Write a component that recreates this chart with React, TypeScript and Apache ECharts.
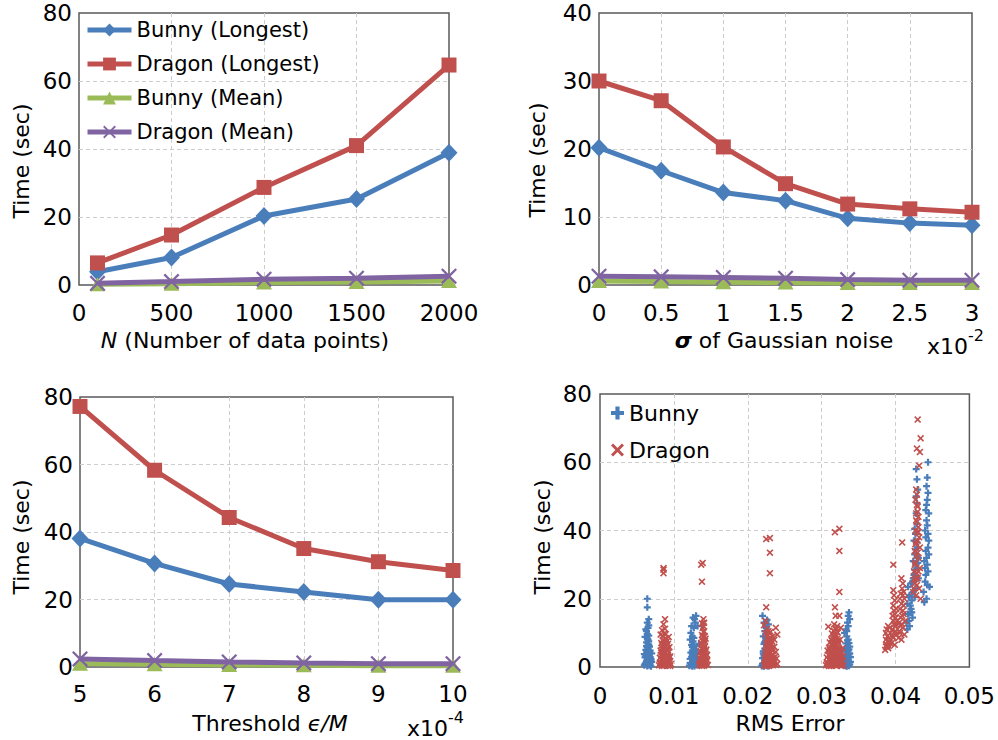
import React, { useEffect, useRef } from 'react';
import * as echarts from 'echarts';

const FONT = 'DejaVu Sans';
const BLUE = '#4A7EBB';
const RED = '#C0504D';
const GREEN = '#9BBB59';
const PURPLE = '#8064A2';

// Panel 1: N (number of data points)
const nPoints = [100, 500, 1000, 1500, 2000];
const nBunnyLongest = [3.9, 8.1, 20.3, 25.3, 38.9];
const nDragonLongest = [6.5, 14.7, 28.7, 41.0, 64.7];
const nBunnyMean = [0.2, 0.4, 0.7, 0.9, 1.2];
const nDragonMean = [0.5, 1.0, 1.7, 2.0, 2.6];

// Panel 2: sigma of Gaussian noise (x10^-2)
const sigmaValues = [0, 0.5, 1, 1.5, 2, 2.5, 3];
const sBunnyLongest = [20.2, 16.8, 13.6, 12.4, 9.8, 9.1, 8.8];
const sDragonLongest = [30.0, 27.1, 20.3, 14.9, 11.9, 11.2, 10.7];
const sBunnyMean = [0.6, 0.5, 0.4, 0.35, 0.3, 0.3, 0.3];
const sDragonMean = [1.3, 1.2, 1.1, 1.0, 0.8, 0.7, 0.7];

// Panel 3: threshold eps/M (x10^-4)
const thrValues = [5, 6, 7, 8, 9, 10];
const tBunnyLongest = [38.1, 30.7, 24.6, 22.2, 19.9, 19.9];
const tDragonLongest = [77.2, 58.3, 44.3, 35.1, 31.2, 28.6];
const tBunnyMean = [1.0, 0.8, 0.6, 0.5, 0.4, 0.4];
const tDragonMean = [2.4, 1.9, 1.5, 1.2, 1.0, 1.0];

// Panel 4: RMS error vs time scatter
const bunnyC1 = [[0.0060,0.5],[0.0062,1.2],[0.0064,0.3],[0.0066,2.0],[0.0068,0.8],[0.0070,1.5],[0.0061,2.8],[0.0063,3.5],[0.0065,4.2],[0.0067,3.0],[0.0069,2.4],[0.0062,5.0],[0.0064,5.8],[0.0066,6.5],[0.0068,4.8],[0.0063,7.2],[0.0065,8.0],[0.0067,6.0],[0.0061,8.8],[0.0064,9.6],[0.0066,7.5],[0.0063,10.5],[0.0065,11.5],[0.0064,13.0],[0.0066,14.0],[0.0064,17.5],[0.0064,20.0],[0.0069,0.2],[0.0060,3.8],[0.0070,4.0],
  [0.0061,0.9],[0.0063,1.8],[0.0065,1.0],[0.0067,0.5],[0.0069,1.9],[0.0062,3.2],[0.0064,2.3],[0.0066,3.6],[0.0068,2.9],[0.0065,5.3],[0.0067,4.5],[0.0063,6.1],[0.0065,6.8],[0.0064,8.4],[0.0066,9.2],[0.0062,11.0],[0.0066,12.2],[0.0065,3.0]];
const bunnyC2 = [[0.0121,0.4],[0.0123,1.0],[0.0125,0.2],[0.0127,1.6],[0.0129,0.7],[0.0131,1.3],[0.0133,0.5],[0.0122,2.4],[0.0124,3.0],[0.0126,2.2],[0.0128,3.5],[0.0130,2.8],[0.0132,2.0],[0.0123,4.2],[0.0125,4.8],[0.0127,5.5],[0.0129,4.5],[0.0131,3.8],[0.0124,6.5],[0.0126,7.5],[0.0128,6.2],[0.0125,9.0],[0.0123,10.0],[0.0127,11.5],[0.0129,13.0],[0.0126,14.5],[0.0130,15.0],[0.0132,12.0],[0.0134,6.8],
  [0.0122,1.2],[0.0124,0.6],[0.0126,1.0],[0.0128,0.3],[0.0130,1.0],[0.0132,0.9],[0.0125,3.6],[0.0127,2.7],[0.0129,2.2],[0.0131,2.6],[0.0126,4.3],[0.0128,5.0],[0.0130,4.2],[0.0125,5.8],[0.0127,8.5],[0.0124,12.0],[0.0128,14.0],[0.0122,8.0]];
const bunnyC3 = [[0.0219,0.3],[0.0221,1.1],[0.0223,0.6],[0.0225,1.8],[0.0227,0.4],[0.0229,1.4],[0.0220,2.6],[0.0222,3.3],[0.0224,2.5],[0.0226,3.8],[0.0228,2.9],[0.0221,4.6],[0.0223,5.4],[0.0225,4.9],[0.0227,5.9],[0.0222,6.8],[0.0224,7.6],[0.0226,6.5],[0.0221,9.0],[0.0223,10.5],[0.0225,11.5],[0.0222,13.0],[0.0220,15.0],[0.0228,12.5],[0.0230,8.0],
  [0.0220,0.9],[0.0222,0.2],[0.0224,1.5],[0.0226,1.0],[0.0228,0.3],[0.0223,2.0],[0.0225,3.0],[0.0227,3.3],[0.0221,3.9],[0.0224,4.2],[0.0226,5.2],[0.0223,7.3],[0.0225,8.5],[0.0227,10.0],[0.0224,12.0],[0.0226,13.8]];
const bunnyC4 = [[0.0330,0.5],[0.0332,1.3],[0.0334,0.2],[0.0336,1.7],[0.0338,0.8],[0.0331,2.6],[0.0333,3.3],[0.0335,2.4],[0.0337,3.7],[0.0339,2.9],[0.0332,4.6],[0.0334,5.3],[0.0336,4.8],[0.0338,6.0],[0.0333,6.9],[0.0335,7.8],[0.0337,7.0],[0.0334,9.0],[0.0333,11.0],[0.0335,13.0],[0.0336,15.0],[0.0337,16.0],[0.0331,10.0],
  [0.0331,1.0],[0.0333,0.4],[0.0335,1.2],[0.0337,0.4],[0.0339,1.5],[0.0332,2.0],[0.0334,3.0],[0.0336,2.8],[0.0338,4.0],[0.0333,5.0],[0.0335,5.8],[0.0337,5.2],[0.0336,8.0],[0.0334,10.5],[0.0336,12.0],[0.0338,14.0]];
const bunnyC5 = [[0.0415,13.0],[0.0417,15.5],[0.0419,12.0],[0.0421,17.0],[0.0423,14.5],[0.0416,18.5],[0.0418,20.5],[0.0420,16.0],[0.0422,19.5],[0.0424,22.0],[0.0417,23.5],[0.0419,21.0],[0.0421,24.5],[0.0416,11.0],[0.0423,25.0],[0.0425,27.0],[0.0427,23.0],[0.0429,29.0],[0.0431,26.0],[0.0424,31.0],[0.0426,33.0],[0.0428,30.0],[0.0430,35.0],[0.0425,37.0],[0.0427,39.0],[0.0429,42.0],[0.0428,45.0],[0.0429,48.0],[0.0430,52.0],[0.0429,55.0],[0.0428,58.0],[0.0426,20.5],[0.0431,32.0],[0.0438,22.0],[0.0440,25.0],[0.0442,20.0],[0.0444,28.0],[0.0446,23.5],[0.0439,31.0],[0.0441,34.0],[0.0443,30.0],[0.0445,37.0],[0.0440,40.0],[0.0442,43.0],[0.0444,39.0],[0.0441,46.0],[0.0443,49.0],[0.0442,53.0],[0.0443,55.5],[0.0444,60.0],[0.0439,19.0],[0.0445,33.0],[0.0441,27.0],
  [0.0418,13.5],[0.0420,18.0],[0.0422,16.0],[0.0424,26.0],[0.0426,28.5],[0.0428,26.0],[0.0430,30.5],[0.0427,34.5],[0.0429,36.5],[0.0426,40.5],[0.0428,50.0],[0.0440,29.0],[0.0442,32.0],[0.0444,35.0],[0.0443,41.5],[0.0441,38.0],[0.0445,45.0],[0.0442,47.5],[0.0444,51.0],[0.0443,24.0]];

const dragonC1 = [[0.0080,0.5],[0.0082,1.4],[0.0084,0.3],[0.0086,1.8],[0.0088,0.7],[0.0090,1.2],[0.0092,0.4],[0.0094,1.6],[0.0096,0.9],[0.0081,2.7],[0.0083,3.4],[0.0085,2.5],[0.0087,3.9],[0.0089,2.9],[0.0091,3.6],[0.0093,2.2],[0.0095,3.1],[0.0082,4.8],[0.0084,5.6],[0.0086,4.6],[0.0088,6.1],[0.0090,5.2],[0.0092,4.9],[0.0094,5.8],[0.0083,7.0],[0.0085,7.9],[0.0087,7.2],[0.0089,8.4],[0.0091,7.6],[0.0093,8.8],[0.0082,9.5],[0.0084,10.8],[0.0086,12.5],[0.0088,11.2],[0.0088,14.0],[0.0086,27.5],[0.0086,28.5],[0.0086,29.0],
  [0.0081,1.0],[0.0083,0.8],[0.0085,1.5],[0.0087,0.4],[0.0089,1.6],[0.0091,0.8],[0.0093,1.2],[0.0095,0.3],[0.0084,2.2],[0.0086,3.2],[0.0088,3.0],[0.0090,2.5],[0.0092,3.2],[0.0094,2.7],[0.0083,4.2],[0.0085,5.1],[0.0087,5.5],[0.0089,4.3],[0.0091,5.6],[0.0093,4.3],[0.0084,6.4],[0.0086,6.8],[0.0088,7.5],[0.0090,6.7],[0.0092,6.8],[0.0085,9.0],[0.0087,9.8],[0.0089,9.6]];
const dragonC2 = [[0.0134,0.5],[0.0136,1.3],[0.0138,0.3],[0.0140,1.7],[0.0142,0.8],[0.0144,1.4],[0.0146,0.6],[0.0135,2.6],[0.0137,3.3],[0.0139,2.4],[0.0141,3.8],[0.0143,2.9],[0.0145,3.5],[0.0136,4.7],[0.0138,5.5],[0.0140,4.5],[0.0142,6.0],[0.0144,5.1],[0.0137,7.0],[0.0139,7.8],[0.0141,6.9],[0.0143,8.3],[0.0138,9.4],[0.0140,10.2],[0.0142,9.0],[0.0139,11.5],[0.0138,12.8],[0.0140,14.0],[0.0141,13.0],[0.0138,25.0],[0.0137,30.0],[0.0139,30.5],
  [0.0135,1.0],[0.0137,0.7],[0.0139,1.2],[0.0141,0.4],[0.0143,1.1],[0.0145,1.9],[0.0136,2.1],[0.0138,3.0],[0.0140,2.8],[0.0142,3.2],[0.0144,2.4],[0.0137,4.3],[0.0139,5.0],[0.0141,5.2],[0.0143,4.6],[0.0138,6.5],[0.0140,7.4],[0.0142,7.6],[0.0139,8.8],[0.0141,10.5],[0.0140,12.0]];
const dragonC3 = [[0.0222,0.4],[0.0224,1.2],[0.0226,0.3],[0.0228,1.6],[0.0230,0.7],[0.0232,1.3],[0.0234,0.5],[0.0236,1.1],[0.0238,0.6],[0.0240,0.9],[0.0223,2.6],[0.0225,3.4],[0.0227,2.3],[0.0229,3.9],[0.0231,2.8],[0.0233,3.5],[0.0235,2.2],[0.0237,3.0],[0.0239,2.5],[0.0224,4.8],[0.0226,5.7],[0.0228,4.5],[0.0230,6.2],[0.0232,5.1],[0.0234,4.7],[0.0236,5.9],[0.0238,4.4],[0.0225,7.2],[0.0227,8.1],[0.0229,7.0],[0.0231,8.6],[0.0233,7.5],[0.0236,8.0],[0.0240,9.5],[0.0224,9.8],[0.0226,11.2],[0.0228,10.5],[0.0222,12.2],[0.0238,11.5],[0.0224,13.5],[0.0225,17.5],[0.0230,27.5],[0.0230,33.5],[0.0225,37.5],[0.0230,37.8],
  [0.0223,0.9],[0.0225,0.6],[0.0227,1.2],[0.0229,0.3],[0.0231,1.6],[0.0233,0.9],[0.0235,1.5],[0.0224,2.0],[0.0226,2.9],[0.0228,3.2],[0.0230,2.2],[0.0232,3.1],[0.0234,2.7],[0.0225,4.2],[0.0227,5.1],[0.0229,5.5],[0.0231,4.3],[0.0233,5.8],[0.0226,6.6],[0.0228,7.6],[0.0230,7.9],[0.0232,6.7],[0.0227,9.2],[0.0229,9.9],[0.0231,10.3],[0.0234,9.0]];
const dragonC4 = [[0.0306,0.5],[0.0308,1.3],[0.0310,0.3],[0.0312,1.7],[0.0314,0.8],[0.0316,1.4],[0.0318,0.5],[0.0320,1.9],[0.0322,0.7],[0.0324,1.2],[0.0326,0.4],[0.0328,1.5],[0.0330,0.6],[0.0307,2.8],[0.0309,3.5],[0.0311,2.4],[0.0313,3.9],[0.0315,2.9],[0.0317,3.6],[0.0319,2.6],[0.0321,3.3],[0.0323,2.2],[0.0325,3.8],[0.0327,2.7],[0.0329,3.1],[0.0308,4.8],[0.0310,5.6],[0.0312,4.5],[0.0314,6.2],[0.0316,5.1],[0.0318,5.8],[0.0320,4.7],[0.0322,6.0],[0.0324,5.3],[0.0326,4.6],[0.0328,5.5],[0.0311,7.2],[0.0313,8.1],[0.0315,7.0],[0.0317,8.6],[0.0319,7.5],[0.0321,8.3],[0.0323,7.1],[0.0325,8.0],[0.0314,9.8],[0.0316,10.6],[0.0318,9.5],[0.0320,11.2],[0.0322,10.1],[0.0309,11.8],[0.0326,11.5],[0.0317,12.5],[0.0319,15.0],[0.0324,15.0],[0.0318,17.5],[0.0324,22.0],[0.0324,34.0],[0.0318,39.5],[0.0324,40.5],
  [0.0307,1.0],[0.0309,0.6],[0.0311,1.2],[0.0313,0.3],[0.0315,1.9],[0.0317,0.9],[0.0319,1.3],[0.0321,0.4],[0.0323,1.6],[0.0325,0.9],[0.0327,0.3],[0.0310,2.1],[0.0312,3.0],[0.0314,2.6],[0.0316,3.3],[0.0318,2.2],[0.0320,3.0],[0.0322,3.7],[0.0324,2.9],[0.0326,3.3],[0.0311,5.0],[0.0313,5.6],[0.0315,4.3],[0.0317,5.0],[0.0319,6.3],[0.0321,5.5],[0.0323,4.9],[0.0314,7.7],[0.0316,8.2],[0.0318,7.3],[0.0320,9.0],[0.0322,7.8],[0.0317,10.5],[0.0319,11.0],[0.0321,12.0]];
const dragonC5 = [[0.0386,5.0],[0.0388,6.5],[0.0390,5.5],[0.0392,7.0],[0.0387,8.0],[0.0389,9.0],[0.0391,8.5],[0.0393,10.0],[0.0388,11.0],[0.0390,12.0],[0.0392,11.5],[0.0387,10.0],[0.0389,6.0],[0.0391,7.5],[0.0395,7.0],[0.0397,8.5],[0.0399,6.5],[0.0401,9.5],[0.0396,11.0],[0.0398,12.5],[0.0400,10.5],[0.0402,13.5],[0.0396,15.0],[0.0398,16.5],[0.0400,14.5],[0.0397,18.0],[0.0399,19.5],[0.0398,21.0],[0.0397,22.5],[0.0401,17.0],[0.0397,30.0],[0.0404,8.5],[0.0406,10.0],[0.0408,8.0],[0.0410,11.5],[0.0412,9.5],[0.0405,13.0],[0.0407,14.5],[0.0409,12.5],[0.0411,15.5],[0.0413,13.5],[0.0406,17.0],[0.0408,18.5],[0.0410,16.5],[0.0412,20.0],[0.0407,21.5],[0.0409,23.0],[0.0411,22.0],[0.0410,24.5],[0.0408,26.0],[0.0409,36.5],[0.0424,22.0],[0.0426,24.5],[0.0428,21.0],[0.0430,26.0],[0.0432,23.0],[0.0434,20.0],[0.0425,28.0],[0.0427,30.5],[0.0429,27.5],[0.0431,32.0],[0.0433,29.0],[0.0426,34.0],[0.0428,36.5],[0.0430,33.5],[0.0432,38.0],[0.0427,40.0],[0.0429,42.5],[0.0431,39.5],[0.0428,45.0],[0.0430,47.0],[0.0427,49.0],[0.0429,50.5],[0.0428,52.0],[0.0433,35.0],[0.0425,25.5],[0.0431,44.0],[0.0432,59.0],[0.0429,64.0],[0.0433,63.0],[0.0434,67.0],[0.0430,72.5],
  [0.0387,6.0],[0.0389,7.5],[0.0391,6.2],[0.0396,9.0],[0.0398,10.0],[0.0400,12.0],[0.0397,13.5],[0.0399,15.5],[0.0401,12.5],[0.0405,10.5],[0.0407,12.0],[0.0409,15.0],[0.0411,18.0],[0.0406,20.0],[0.0410,21.0],[0.0425,23.0],[0.0427,26.0],[0.0429,24.0],[0.0431,28.0],[0.0426,30.0],[0.0428,32.5],[0.0430,37.0],[0.0427,36.0],[0.0429,39.5],[0.0431,41.0],[0.0428,43.0],[0.0430,45.5],[0.0429,47.5]];

const LEGEND_LINES = ['Bunny (Longest)', 'Dragon (Longest)', 'Bunny (Mean)', 'Dragon (Mean)'];
const LEGEND_SCATTER = ['Bunny', 'Dragon'];

const X_SYMBOL = 'path://M1,0 L5,4 L9,0 L10,1 L6,5 L10,9 L9,10 L5,6 L1,10 L0,9 L4,5 L0,1 Z';
const PLUS_SYMBOL = 'path://M3.4,0 H6.6 V3.4 H10 V6.6 H6.6 V10 H3.4 V6.6 H0 V3.4 H3.4 Z';
const XS_SYMBOL = 'path://M1.6,0 L5,3.4 L8.4,0 L10,1.6 L6.6,5 L10,8.4 L8.4,10 L5,6.6 L1.6,10 L0,8.4 L3.4,5 L0,1.6 Z';

const zip = (xs: number[], ys: number[]) => xs.map((x, i) => [x, ys[i]]);

const axisLabelStyle = { fontFamily: FONT, fontSize: 23, color: '#000' };
const splitLine = {
  show: true,
  showMinLine: false,
  showMaxLine: false,
  lineStyle: { type: [4, 3], color: '#cdcdcd', width: 1 },
};

function xAxis(gridIndex: number, min: number, max: number, interval: number, margin: number) {
  return {
    type: 'value', gridIndex, min, max, interval,
    axisLine: { show: false }, axisTick: { show: false },
    axisLabel: {
      ...axisLabelStyle, margin, showMinLabel: true, showMaxLabel: true, hideOverlap: false,
      formatter: (v: number) => String(v),
    },
    splitLine,
  };
}
function yAxis(gridIndex: number, min: number, max: number, interval: number, margin: number) {
  return {
    type: 'value', gridIndex, min, max, interval,
    axisLine: { show: false }, axisTick: { show: false },
    axisLabel: { ...axisLabelStyle, margin, formatter: (v: number) => String(v) },
    splitLine,
  };
}

function lineSeries(name: string, idx: number, data: number[][], color: string, symbol: string, size: any, z: number) {
  return {
    type: 'line', name, xAxisIndex: idx, yAxisIndex: idx, data,
    symbol, symbolSize: size, z,
    lineStyle: { color, width: 5 },
    itemStyle: { color },
    emphasis: { disabled: true },
  };
}

function panelSeries(idx: number, xs: number[], bl: number[], dl: number[], bm: number[], dm: number[]) {
  return [
    lineSeries('Bunny (Longest)', idx, zip(xs, bl), BLUE, 'diamond', [17, 18], 3),
    lineSeries('Dragon (Longest)', idx, zip(xs, dl), RED, 'rect', 15, 4),
    lineSeries('Bunny (Mean)', idx, zip(xs, bm), GREEN, 'triangle', [16, 14], 5),
    lineSeries('Dragon (Mean)', idx, zip(xs, dm), PURPLE, X_SYMBOL, 16, 6),
  ];
}

const txt = (text: string, x: number, y: number, extra: any = {}, rotation = 0) => ({
  type: 'text', x, y, rotation, z: 100,
  style: {
    text, fontFamily: FONT, fontSize: 22, fill: '#000',
    align: 'center', verticalAlign: 'middle', ...extra,
  },
});

const supText = (base: string, sup: string, x: number, y: number) =>
  txt(`{a|${base}}{s|${sup}}`, x, y, {
    align: 'left',
    rich: {
      a: { fontFamily: FONT, fontSize: 22, fill: '#000', lineHeight: 30, verticalAlign: 'bottom' },
      s: { fontFamily: FONT, fontSize: 16, fill: '#000', lineHeight: 16, verticalAlign: 'top' },
    },
  });

const option: any = {
  animation: false,
  backgroundColor: '#fff',
  textStyle: { fontFamily: FONT },
  grid: [
    { left: 79, top: 13, width: 370, height: 272 },
    { left: 599, top: 13, width: 373, height: 272 },
    { left: 80, top: 397, width: 373, height: 270 },
    { left: 600, top: 394, width: 373, height: 273 },
  ].map((g) => ({ ...g, show: true, borderColor: '#595959', borderWidth: 1.5, backgroundColor: 'transparent', containLabel: false })),
  xAxis: [
    xAxis(0, 0, 2000, 500, 16),
    xAxis(1, 0, 3, 0.5, 16),
    xAxis(2, 5, 10, 1, 15),
    xAxis(3, 0, 0.05, 0.01, 17),
  ],
  yAxis: [
    yAxis(0, 0, 80, 20, 7),
    yAxis(1, 0, 40, 10, 7),
    yAxis(2, 0, 80, 20, 7),
    yAxis(3, 0, 80, 20, 8),
  ],
  legend: [
    {
      data: LEGEND_LINES,
      orient: 'vertical', left: 85, top: 18, padding: 0,
      itemWidth: 44, itemHeight: 16, itemGap: 10,
      selectedMode: false,
      lineStyle: { width: 5 },
      textStyle: { fontFamily: FONT, fontSize: 21, color: '#000', lineHeight: 24 },
    },
    {
      data: LEGEND_SCATTER,
      orient: 'vertical', left: 611, top: 401, padding: 0,
      itemWidth: 13, itemHeight: 13, itemGap: 13,
      selectedMode: false,
      textStyle: { fontFamily: FONT, fontSize: 22, color: '#000', lineHeight: 24 },
    },
  ],
  series: [
    ...panelSeries(0, nPoints, nBunnyLongest, nDragonLongest, nBunnyMean, nDragonMean),
    ...panelSeries(1, sigmaValues, sBunnyLongest, sDragonLongest, sBunnyMean, sDragonMean),
    ...panelSeries(2, thrValues, tBunnyLongest, tDragonLongest, tBunnyMean, tDragonMean),
    {
      type: 'scatter', name: 'Bunny', xAxisIndex: 3, yAxisIndex: 3,
      data: [...bunnyC1, ...bunnyC2, ...bunnyC3, ...bunnyC4, ...bunnyC5],
      symbol: PLUS_SYMBOL, symbolSize: 7, itemStyle: { color: BLUE, opacity: 1 }, z: 3,
      emphasis: { disabled: true },
    },
    {
      type: 'scatter', name: 'Dragon', xAxisIndex: 3, yAxisIndex: 3,
      data: [...dragonC1, ...dragonC2, ...dragonC3, ...dragonC4, ...dragonC5],
      symbol: XS_SYMBOL, symbolSize: 7, itemStyle: { color: RED, opacity: 1 }, z: 4,
      emphasis: { disabled: true },
    },
  ],
  graphic: [
    txt('Time (sec)', 21, 161, {}, Math.PI / 2),
    txt('Time (sec)', 537, 160, {}, Math.PI / 2),
    txt('Time (sec)', 21, 537, {}, Math.PI / 2),
    txt('Time (sec)', 542, 537, {}, Math.PI / 2),
    txt('{i|N} (Number of data points)', 245, 340, {
      rich: { i: { fontFamily: FONT, fontSize: 22, fontStyle: 'italic', fill: '#000' } },
    }),
    txt('{i|σ} of Gaussian noise', 784, 340, {
      rich: { i: { fontFamily: FONT, fontSize: 22, fontStyle: 'italic', fontWeight: 'bold', fill: '#000' } },
    }),
    supText('x10', '-2', 927, 342),
    txt('Threshold {i|ϵ/M}', 270, 723, {
      rich: { i: { fontFamily: FONT, fontSize: 22, fontStyle: 'italic', fill: '#000' } },
    }),
    supText('x10', '-4', 407, 724),
    txt('RMS Error', 790, 723),
  ],
};

export default function App() {
  const ref = useRef<HTMLDivElement>(null);
  useEffect(() => {
    document.body.style.margin = '0';
    const chart = echarts.init(ref.current!, null, { renderer: 'svg' });
    chart.setOption(option);
    return () => chart.dispose();
  }, []);
  return <div ref={ref} style={{ width: 998, height: 740 }} />;
}
